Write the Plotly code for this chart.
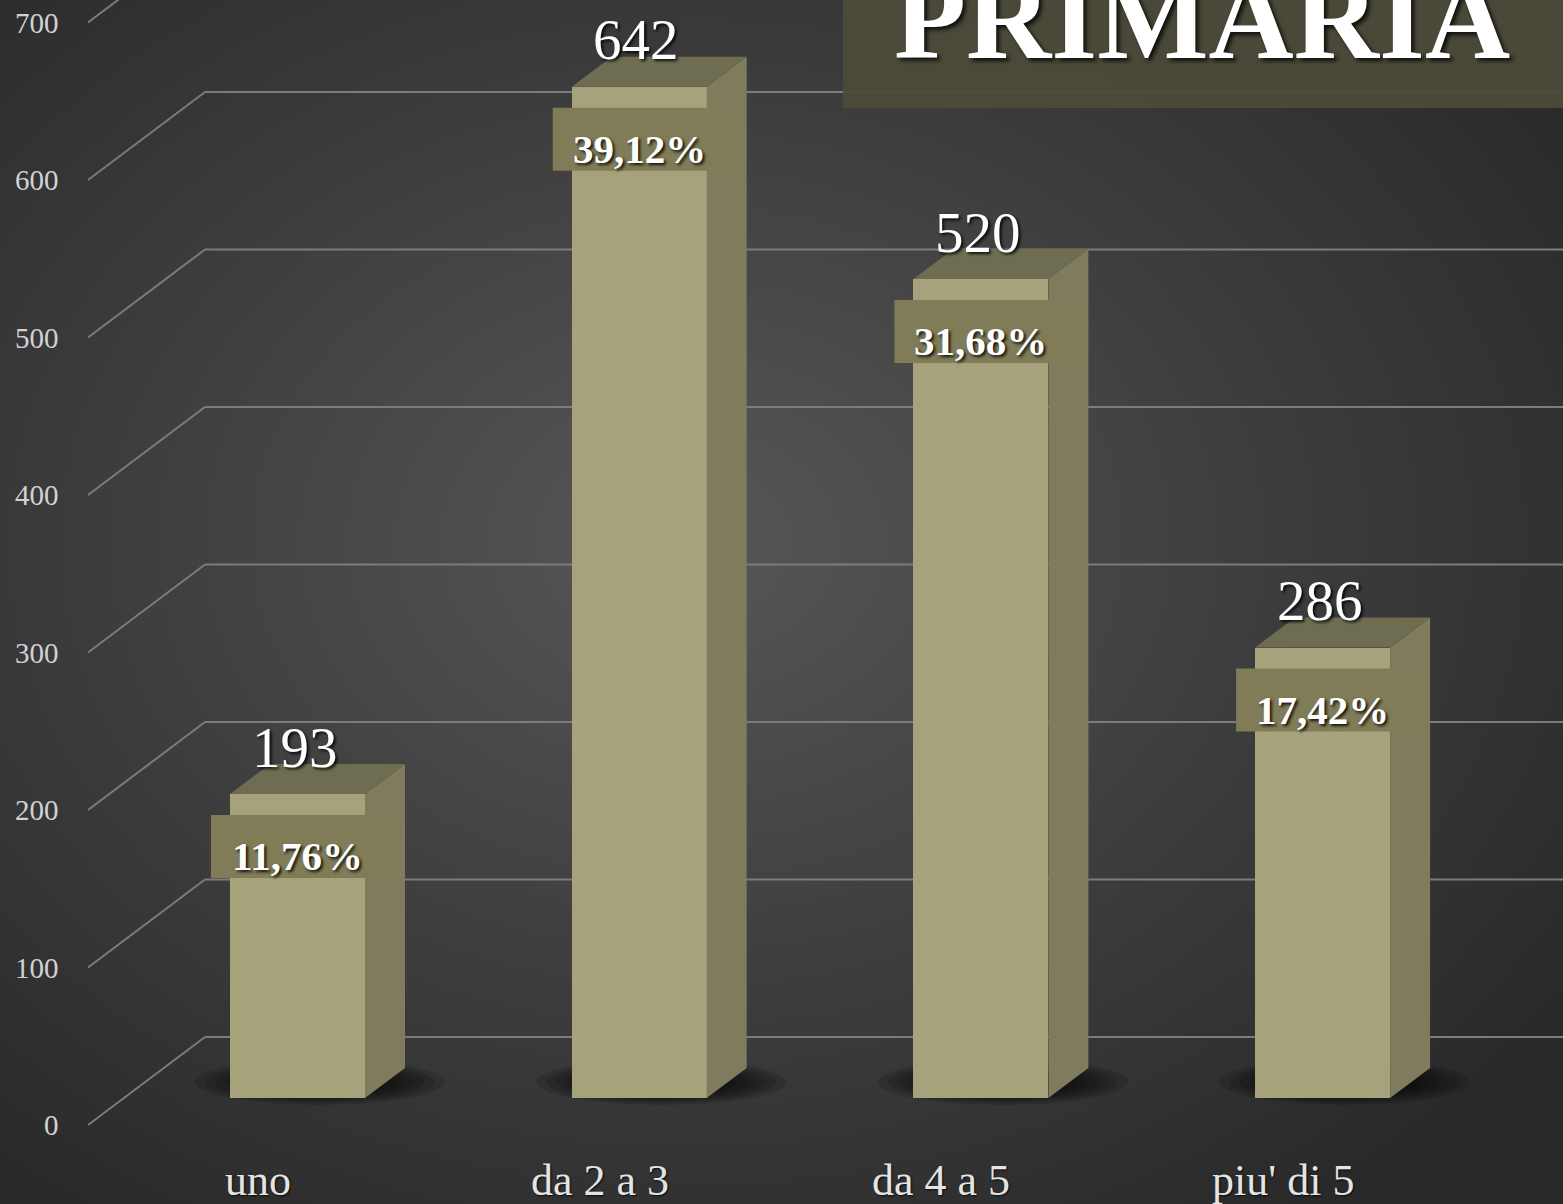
import base64
import plotly.graph_objects as go

# ---------------- data ----------------
categories = ["uno", "da 2 a 3", "da 4 a 5", "piu' di 5"]
values = [193, 642, 520, 286]
percent_labels = ["11,76%", "39,12%", "31,68%", "17,42%"]
tick_values = [0, 100, 200, 300, 400, 500, 600, 700]
title_text = "PRIMARIA"

# ---------------- geometry / style ----------------
W, H = 1563, 1204
BASE_Y = 1098.0      # pixel row of value 0 on the bar plane
PX_PER_VAL = 1.575   # pixels per unit of value
FIRST_X = 297.5      # pixel column of first category (bar front centre)
CAT_STEP = 341.7     # pixels between categories

x_range = [-FIRST_X / CAT_STEP, (W - FIRST_X) / CAT_STEP]
y_range = [(BASE_Y - H) / PX_PER_VAL, BASE_Y / PX_PER_VAL]


def ux(px):
    return px / CAT_STEP


def uy(px):
    return px / PX_PER_VAL


def to_x(px):
    return (px - FIRST_X) / CAT_STEP


BAR_HALF = 67.5
BAR_DX, BAR_DY = 40, 30
FRONT_DX, FRONT_DY = -36, -27
BACK_DY = 61
WALL_FRONT_PX, WALL_BACK_PX = 88, 205

FRONT_COL = "#a6a37c"
SIDE_COL = "#7e7c5d"
TOP_COL = "#6f6d51"
BOX_COL = "#7f7c57"
GRID_COL = "#7c7c7c"
SERIF = "Liberation Serif"
SHADOW = "2px 2px 3px rgba(0,0,0,0.85)"

# background radial gradient
svg = (
    f'<svg xmlns="http://www.w3.org/2000/svg" width="{W}" height="{H}">'
    '<defs><radialGradient id="g" cx="44%" cy="45%" r="70%">'
    '<stop offset="0" stop-color="#575757"/>'
    '<stop offset="0.55" stop-color="#3c3c3c"/>'
    '<stop offset="1" stop-color="#282828"/>'
    '</radialGradient></defs>'
    '<rect width="100%" height="100%" fill="url(#g)"/></svg>'
)
bg_src = "data:image/svg+xml;base64," + base64.b64encode(svg.encode()).decode()

fig = go.Figure()
shapes = []
annotations = []

# ---- gridlines: diagonal on left wall + horizontal on back wall ----
for v in tick_values:
    yf = v + uy(FRONT_DY)
    yb = v + uy(BACK_DY)
    shapes.append(dict(type="line", xref="x", yref="y", layer="below",
                       x0=to_x(WALL_FRONT_PX), y0=yf, x1=to_x(WALL_BACK_PX), y1=yb,
                       line=dict(color=GRID_COL, width=2)))
    shapes.append(dict(type="line", xref="x", yref="y", layer="below",
                       x0=to_x(WALL_BACK_PX), y0=yb, x1=x_range[1], y1=yb,
                       line=dict(color=GRID_COL, width=2)))
    annotations.append(dict(x=61 / W, xref="paper", y=yf, yref="y",
                            text=str(v), showarrow=False, xanchor="right",
                            yanchor="middle",
                            font=dict(family=SERIF, size=29, color="#d2d2d2")))

# ---- soft shadows under bars ----
for i, v in enumerate(values):
    cx = i + ux(22)
    cy = uy(16)
    for s in [1.0, 0.92, 0.84, 0.76, 0.68, 0.6, 0.52, 0.44]:
        hw = 125 * s
        hh = 23 * s
        shapes.append(dict(type="circle", xref="x", yref="y", layer="below",
                           x0=cx - ux(hw), x1=cx + ux(hw),
                           y0=cy - uy(hh), y1=cy + uy(hh),
                           fillcolor="rgba(0,0,0,0.13)", line=dict(width=0)))

# ---- bar front faces ----
fig.add_trace(go.Bar(x=list(range(len(values))), y=values, width=ux(2 * BAR_HALF),
                     marker=dict(color=FRONT_COL, line=dict(width=0)),
                     hoverinfo="skip", showlegend=False))

# ---- side and top faces ----
for i, v in enumerate(values):
    xl, xr = i - ux(BAR_HALF), i + ux(BAR_HALF)
    dx, dy = ux(BAR_DX), uy(BAR_DY)
    fig.add_trace(go.Scatter(x=[xr, xr + dx, xr + dx, xr, xr],
                             y=[0, dy, v + dy, v, 0],
                             fill="toself", fillcolor=SIDE_COL, mode="lines",
                             line=dict(width=0, color=SIDE_COL),
                             hoverinfo="skip", showlegend=False))
    fig.add_trace(go.Scatter(x=[xl, xr, xr + dx, xl + dx, xl],
                             y=[v, v, v + dy, v + dy, v],
                             fill="toself", fillcolor=TOP_COL, mode="lines",
                             line=dict(width=0, color=TOP_COL),
                             hoverinfo="skip", showlegend=False))

    # percentage box + label
    shapes.append(dict(type="rect", xref="x", yref="y", layer="above",
                       x0=i - ux(86.5), x1=i + ux(102.5),
                       y0=v - uy(84), y1=v - uy(21),
                       fillcolor=BOX_COL, line=dict(width=0)))
    annotations.append(dict(x=i, y=v - uy(62), xref="x", yref="y",
                            text="<b>" + percent_labels[i] + "</b>",
                            showarrow=False, xanchor="center", yanchor="middle",
                            font=dict(family=SERIF, size=41, color="white",
                                      shadow=SHADOW)))
    # value label
    annotations.append(dict(x=i - ux(3), y=v + uy(47), xref="x", yref="y",
                            text=str(v), showarrow=False, xanchor="center",
                            yanchor="middle",
                            font=dict(family=SERIF, size=57, color="white",
                                      shadow=SHADOW)))
    # category label
    annotations.append(dict(x=i + ux(-39.5), y=uy(-82), xref="x", yref="y",
                            text=categories[i], showarrow=False,
                            xanchor="center", yanchor="middle",
                            font=dict(family=SERIF, size=44, color="#e4e4e4",
                                      shadow="1px 1px 2px rgba(0,0,0,0.8)")))

# ---- title box ----
shapes.append(dict(type="rect", xref="paper", yref="paper", layer="above",
                   x0=843 / W, x1=1.0, y0=1 - 108 / H, y1=1.0,
                   fillcolor="rgba(76,75,58,0.95)", line=dict(width=0)))
annotations.append(dict(x=1202 / W, y=1 - 18 / H, xref="paper", yref="paper",
                        text="<b>" + title_text + "</b>", showarrow=False,
                        xanchor="center", yanchor="middle",
                        font=dict(family=SERIF, size=118, color="white",
                                  shadow="3px 3px 4px rgba(0,0,0,0.8)")))

fig.update_layout(
    width=W, height=H,
    margin=dict(l=0, r=0, t=0, b=0),
    paper_bgcolor="#383838",
    plot_bgcolor="rgba(0,0,0,0)",
    xaxis=dict(range=x_range, visible=False, fixedrange=True),
    yaxis=dict(range=y_range, visible=False, fixedrange=True),
    shapes=shapes,
    annotations=annotations,
    images=[dict(source=bg_src, xref="paper", yref="paper", x=0, y=1,
                 sizex=1, sizey=1, sizing="stretch", layer="below")],
    bargap=0,
    showlegend=False,
)

fig.write_html(
    "out.html",
    config={"displayModeBar": False},
    post_script="document.body.style.margin='0';"
                "document.body.style.background='#2a2a2a';"
                "document.body.style.overflow='hidden';",
)
